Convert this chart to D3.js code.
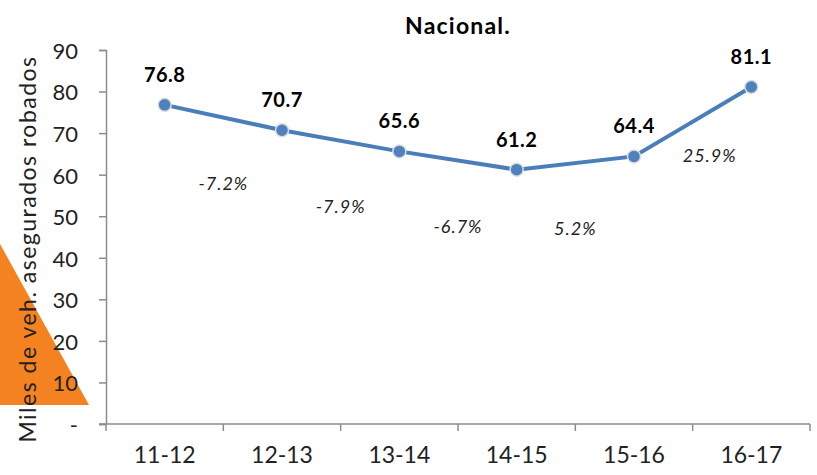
<!DOCTYPE html>
<html>
<head>
<meta charset="utf-8">
<script src="https://cdn.jsdelivr.net/npm/d3@7"></script>
<style>
  body { margin: 0; background: #fff; }
  svg { font-family: Lato, "Open Sans", sans-serif; }
</style>
</head>
<body>
<div id="chart"></div>
<script>
// data
var periods = ["11-12", "12-13", "13-14", "14-15", "15-16", "16-17"];
var robados = [76.8, 70.7, 65.6, 61.2, 64.4, 81.1];
var variacion = ["-7.2%", "-7.9%", "-6.7%", "5.2%", "25.9%"];
var yTicks = [0, 10, 20, 30, 40, 50, 60, 70, 80, 90];

var width = 817, height = 475;
var margin = {top: 50, right: 7, bottom: 51, left: 106};

var svg = d3.select("#chart").append("svg")
    .attr("width", width)
    .attr("height", height);

// orange corner decoration
svg.append("path")
    .attr("d", "M0,244 L89,405 L0,405 Z")
    .attr("fill", "#f58220");

var x = d3.scaleBand()
    .domain(periods)
    .range([margin.left, width - margin.right]);

var y = d3.scaleLinear()
    .domain([0, 90])
    .range([height - margin.bottom, margin.top]);

// y axis
var yAxis = svg.append("g")
    .attr("transform", "translate(" + margin.left + ",0)")
    .call(d3.axisLeft(y).tickValues(yTicks).tickSize(7).tickPadding(21)
        .tickFormat(function(d) { return d === 0 ? "-" : d; }));
yAxis.selectAll("path, line").attr("stroke", "#8c8c8c").attr("stroke-width", 1.5);
yAxis.selectAll("text").attr("font-size", 22).attr("fill", "#222")
    .attr("font-family", "Lato, sans-serif").attr("dy", "0.38em");

// x axis (ticks between categories)
var xAxis = svg.append("g")
    .attr("transform", "translate(0," + y(0) + ")");
xAxis.append("line")
    .attr("x1", margin.left - 7).attr("x2", width - margin.right)
    .attr("stroke", "#8c8c8c").attr("stroke-width", 1.5);
var bounds = periods.map(function(p) { return x(p); }).concat([x(periods[periods.length - 1]) + x.bandwidth()]);
xAxis.selectAll(".tk").data(bounds).enter().append("line")
    .attr("x1", function(d) { return d; })
    .attr("x2", function(d) { return d; })
    .attr("y1", 0).attr("y2", 7)
    .attr("stroke", "#8c8c8c").attr("stroke-width", 1.5);
xAxis.selectAll(".lbl").data(periods).enter().append("text")
    .attr("x", function(d) { return x(d) + x.bandwidth() / 2; })
    .attr("y", 39)
    .attr("text-anchor", "middle")
    .attr("font-size", 23)
    .attr("fill", "#222")
    .text(function(d) { return d; });

// title
svg.append("text")
    .attr("x", 458).attr("y", 34)
    .attr("text-anchor", "middle")
    .attr("font-size", 23)
    .attr("font-weight", "bold")
    .attr("letter-spacing", 1.2)
    .text("Nacional.");

// y axis title
svg.append("text")
    .attr("transform", "translate(36,249) rotate(-90)")
    .attr("text-anchor", "middle")
    .attr("font-size", 23)
    .attr("letter-spacing", 1.5)
    .attr("fill", "#222")
    .text("Miles de veh. asegurados robados");

var cx = function(d, i) { return x(periods[i]) + x.bandwidth() / 2; };

var line = d3.line()
    .x(function(d, i) { return cx(d, i); })
    .y(function(d) { return y(d); });

svg.append("path")
    .datum(robados)
    .attr("d", line)
    .attr("fill", "none")
    .attr("stroke", "#4a7ebb")
    .attr("stroke-width", 4);

svg.selectAll(".pt").data(robados).enter().append("circle")
    .attr("cx", cx)
    .attr("cy", function(d) { return y(d); })
    .attr("r", 6.5)
    .attr("fill", "#4f81bd")
    .attr("stroke", "#dcdcdc")
    .attr("stroke-width", 1.5);

svg.selectAll(".val").data(robados).enter().append("text")
    .attr("x", cx)
    .attr("y", function(d) { return y(d) - 23; })
    .attr("text-anchor", "middle")
    .attr("font-size", 20)
    .attr("font-weight", "bold")
    .attr("letter-spacing", 0.5)
    .text(function(d) { return d.toFixed(1); });

// percent change labels between points
svg.selectAll(".pct").data(variacion).enter().append("text")
    .attr("x", function(d, i) {
        var mid = (cx(null, i) + cx(null, i + 1)) / 2;
        return i === variacion.length - 1 ? mid + 17 : mid;
    })
    .attr("y", function(d, i) {
        var mid = y((robados[i] + robados[i + 1]) / 2);
        return i === variacion.length - 1 ? mid + 40 : mid + 72;
    })
    .attr("text-anchor", "middle")
    .attr("font-size", 18)
    .attr("font-style", "italic")
    .attr("letter-spacing", 1)
    .attr("fill", "#222")
    .text(function(d) { return d; });
</script>
</body>
</html>
